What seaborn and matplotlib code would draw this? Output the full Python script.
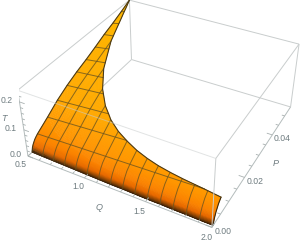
import numpy as np
import matplotlib
matplotlib.use("Agg")
import matplotlib.pyplot as plt
import seaborn as sns

# values
q_mesh = [0.5, 0.6, 0.7, 0.8, 0.9, 1.0, 1.1, 1.2, 1.3, 1.4, 1.5, 1.6, 1.7, 1.8, 1.9, 2.0]
p_edge = [0.055, 0.038, 0.028, 0.0215, 0.017, 0.0138, 0.0116, 0.0099, 0.0086, 0.0076, 0.0068, 0.0062, 0.0057, 0.0053, 0.0049, 0.0046]
p_base = [0.0018, 0.0017, 0.0016, 0.0015, 0.0014, 0.0013, 0.0012, 0.0011, 0.0011, 0.001, 0.0009, 0.0009, 0.0008, 0.0008, 0.0007, 0.0007]
p_rows = [0.005, 0.01, 0.015, 0.02, 0.025, 0.03, 0.035, 0.04, 0.045, 0.05, 0.055]
t_left = [0.046, 0.072, 0.1, 0.122, 0.14, 0.155, 0.172, 0.19, 0.205, 0.222, 0.24]
t_right = [0.07, 0.09, 0.115, 0.135, 0.15, 0.165, 0.18, 0.195, 0.21, 0.225, 0.24]
band_frac = [0.0, 0.1, 0.3, 0.6]
band_rise = [0.0, 0.28, 0.54, 0.8]

q_ticks = [0.5, 1.0, 1.5, 2.0]
p_ticks = [0.0, 0.02, 0.04]
t_ticks = [0.0, 0.1, 0.2]
q_minor = [0.6, 0.7, 0.8, 0.9, 1.1, 1.2, 1.3, 1.4, 1.6, 1.7, 1.8, 1.9]
p_minor = [0.005, 0.01, 0.015, 0.025, 0.03, 0.035, 0.045, 0.05]
t_minor = [0.02, 0.04, 0.06, 0.08, 0.12, 0.14, 0.16, 0.18, 0.22]

Q0, Q1 = 0.5, 2.0
P0, P1 = 0.0, 0.055
T0, T1 = 0.0, 0.24

sns.set_style("white")
plt.rcParams["font.family"] = ["Liberation Sans", "DejaVu Sans"]
GREY = "#c9cdcd"
TXT = "#6f7c80"
MESH = "#6b5520"

W, H = 300, 241
fig = plt.figure(figsize=(W / 100, H / 100), dpi=100)
ax = fig.add_subplot(projection="3d", computed_zorder=False)
ax.set_xlim(Q0, Q1, view_margin=0)
ax.set_ylim(P0, P1, view_margin=0)
ax.set_zlim(T0, T1, view_margin=0)
ax.view_init(elev=36.01, azim=-61.66)
ax.set_proj_type("persp", focal_length=0.44)
ax.set_box_aspect((1, 1, 0.397))
ax.set_xticks([])
ax.set_yticks([])
ax.set_zticks([])
ax.set_axis_off()
ax.patch.set_alpha(0)

# fitted camera -> axes position
a, bx, by = 1541.9, 165.4, -99.3
xl = ax.viewLim.intervalx
yl = ax.viewLim.intervaly
side = a * (xl[1] - xl[0])
ax.set_position([(bx + a * xl[0]) / W, (H + by + a * yl[0]) / H, side / W, side / H])

row_end = np.interp(-np.array(p_rows), -np.array(p_edge), q_mesh)
tl = np.array(t_left)
tr = np.array(t_right)

def edge_of(q):
    return np.interp(q, q_mesh, p_edge)

def base_of(q):
    return np.interp(q, q_mesh, p_base)

def t_of(q, p):
    w = np.clip((q - Q0) / np.maximum(row_end - Q0, 1e-6), 0, 1)
    row_t = tl + (tr - tl) * w
    b = base_of(q)
    kp = b + (p_rows[0] - b) * np.array(band_frac)
    kt = row_t[0] * np.array(band_rise)
    return np.interp(p, np.r_[kp, p_rows], np.r_[kt, row_t])

def seg(p1, p2, z, c=GREY, lw=0.7, alpha=1.0):
    ax.plot([p1[0], p2[0]], [p1[1], p2[1]], [p1[2], p2[2]], color=c, lw=lw, alpha=alpha, zorder=z, solid_capstyle="butt")

# box, back part first
seg((Q0, P1, T0), (Q1, P1, T0), 1)
seg((Q0, P1, T0), (Q0, P0, T0), 1)
seg((Q0, P1, T0), (Q0, P1, T1), 1)
seg((Q0, P1, T1), (Q1, P1, T1), 1)
seg((Q0, P1, T1), (Q0, P0, T1), 1)
seg((Q1, P1, T0), (Q1, P1, T1), 1)

# surface
qq = np.linspace(Q0, Q1, 151)
ss = np.r_[np.linspace(0, 0.15, 40), np.linspace(0.15, 1, 50)[1:]]
Q, S = np.meshgrid(qq, ss)
P = base_of(Q) + S * (edge_of(Q) - base_of(Q))
Z = np.array([t_of(q, P[:, j]) for j, q in enumerate(qq)]).T
cmap = sns.blend_palette(["#3a2006", "#8a4404", "#e86a00", "#fb8200", "#ff9600", "#ffa800", "#ffba00"], as_cmap=True)
levels = np.array([0, 0.008, 0.02, 0.036, 0.06, 0.1, 0.24])
cv = np.interp(Z, levels, np.linspace(0, 1, len(levels)))
cols = cmap(cv)
ax.plot_surface(Q, P, Z, facecolors=cols, rstride=1, cstride=1, shade=False,
                linewidth=0.3, antialiased=True, zorder=2)

# mesh lines
for q, pe in zip(q_mesh[1:-1], p_edge[1:-1]):
    pl = np.linspace(base_of(q), pe, 60)
    ax.plot(np.full_like(pl, q), pl, t_of(q, pl), color=MESH, lw=0.7, alpha=0.8, zorder=3)
for pk, qe, t1, t2 in zip(p_rows[:-1], row_end[:-1], t_left[:-1], t_right[:-1]):
    ax.plot([Q0, qe], [pk, pk], [t1, t2], color=MESH, lw=0.7, alpha=0.8, zorder=3)

# outline of the sheet
pl = np.linspace(p_base[0], p_edge[0], 120)
ax.plot(np.full_like(pl, Q0), pl, t_of(Q0, pl), color="#4a3a18", lw=0.8, zorder=3)
pl = np.linspace(p_base[-1], p_edge[-1], 30)
ax.plot(np.full_like(pl, Q1), pl, t_of(Q1, pl), color="#3a2a10", lw=0.8, zorder=3)
ax.plot(qq, edge_of(qq), [t_of(q, edge_of(q)) for q in qq], color="#4a3a18", lw=0.8, zorder=3)
ax.plot(qq, base_of(qq), np.zeros_like(qq), color="#3a2006", lw=0.4, zorder=3)

# box, front part
seg((Q0, P0, T1), (Q1, P0, T1), 4, alpha=0.55)
seg((Q1, P0, T0), (Q1, P0, T1), 4)
seg((Q1, P0, T1), (Q1, P1, T1), 4)
seg((Q1, P0, T0), (Q1, P1, T0), 4, c="#b4bcbc")
seg((Q0, P0, T0), (Q1, P0, T0), 4, c="#b4bcbc")
seg((Q0, P0, T0), (Q0, P0, T1), 4, c="#b4bcbc")

# ticks
for v, ln in [(v, 0.03) for v in q_ticks] + [(v, 0.016) for v in q_minor]:
    seg((v, 0, 0), (v, ln * P1, 0), 4, c="#a8b0b0", lw=0.6)
for v, ln in [(v, 0.03) for v in p_ticks] + [(v, 0.016) for v in p_minor]:
    seg((Q1, v, 0), (Q1 - ln * (Q1 - Q0), v, 0), 4, c="#a8b0b0", lw=0.6)
for v, ln in [(v, 0.03) for v in t_ticks] + [(v, 0.016) for v in t_minor]:
    seg((Q0, 0, v), (Q0 + ln * (Q1 - Q0), 0, v), 4, c="#a8b0b0", lw=0.6)

fs = 6.2
for v in q_ticks:
    ax.text(v + 0.01, -0.0035, 0, "%.1f" % v, fontsize=fs, color=TXT, ha="center", va="center", zorder=5)
for v in p_ticks:
    ax.text(2.08, v, 0, "%.2f" % v, fontsize=fs, color=TXT, ha="center", va="center", zorder=5)
for v in t_ticks:
    ax.text(0.41, -0.0012, v, "%.1f" % v, fontsize=fs, color=TXT, ha="center", va="center", zorder=5)

fig.text(99 / W, 1 - 208 / H, "Q", fontsize=6.5, style="italic", color=TXT, ha="center", va="center")
fig.text(276 / W, 1 - 163 / H, "P", fontsize=6.5, style="italic", color=TXT, ha="center", va="center")
fig.text(3.5 / W, 1 - 118 / H, "T", fontsize=6.5, style="italic", color=TXT, ha="center", va="center")

fig.savefig("out.png", dpi=100)
